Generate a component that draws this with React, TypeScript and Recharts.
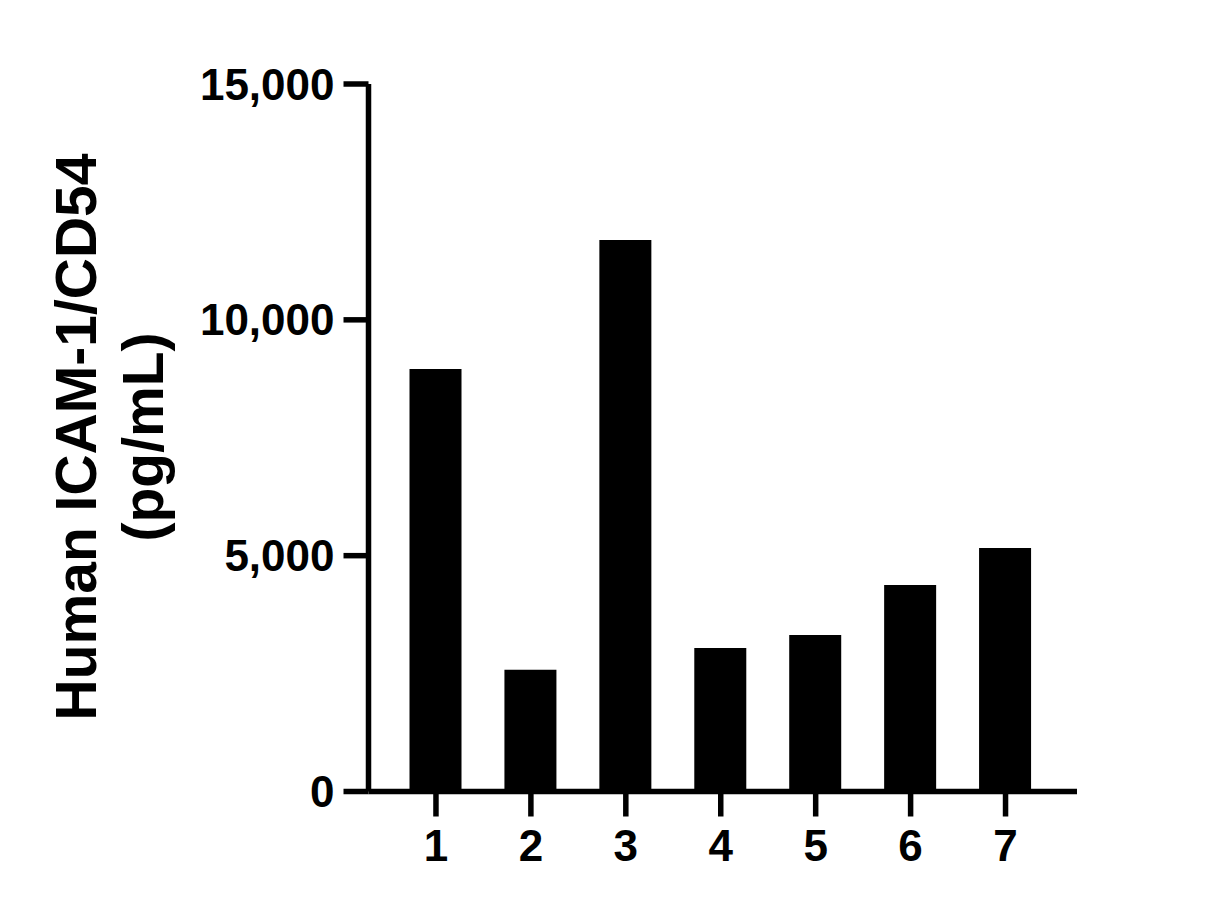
import React from "react";
import { BarChart, Bar, XAxis, YAxis } from "recharts";

const categories = ["1", "2", "3", "4", "5", "6", "7"];
const concentrations = [8957, 2582, 11692, 3042, 3318, 4378, 5162];
const yTicks = [0, 5000, 10000, 15000];
const titleLines = ["Human ICAM-1/CD54", "(pg/mL)"];

const FONT = '"Liberation Sans", Arial, Helvetica, sans-serif';

const data = categories.map((name, i) => ({ name, value: concentrations[i] }));

const tickStyle = {
  fontFamily: FONT,
  fontWeight: 700,
  fontSize: 44,
  fill: "#000",
};

const axisLine = { stroke: "#000", strokeWidth: 5.5 };
const tickLine = { stroke: "#000", strokeWidth: 5.5 };

// two-line rotated y title
const YTitle = () => {
  const cy = 437;
  const baselines = [96, 163];
  return (
    <g>
      {titleLines.map((line, i) => (
        <text
          key={i}
          transform={`translate(${baselines[i]},${cy}) rotate(-90)`}
          textAnchor="middle"
          fontFamily={FONT}
          fontWeight={700}
          fontSize={57}
          fill="#000"
        >
          {line}
        </text>
      ))}
    </g>
  );
};

const App = () => {
  return (
    <div style={{ position: "absolute", left: 0, top: 0, width: 1214, height: 908, background: "#fff" }}>
      <BarChart
        width={1214}
        height={908}
        data={data}
        margin={{ top: 84, right: 137, bottom: 56.5, left: 238.5 }}
        barCategoryGap={0}
      >
        <XAxis
          dataKey="name"
          height={60}
          padding={{ left: 20, right: 24 }}
          axisLine={axisLine}
          tickLine={tickLine}
          tickSize={25}
          tickMargin={13}
          tick={tickStyle}
          interval={0}
        />
        <YAxis
          width={130}
          domain={[0, 15000]}
          ticks={yTicks}
          allowDataOverflow
          axisLine={axisLine}
          tickLine={tickLine}
          tickSize={25}
          tickMargin={9}
          tick={tickStyle}
          tickFormatter={(v: number) => v.toLocaleString("en-US")}
          label={<YTitle />}
        />
        <Bar dataKey="value" fill="#000" barSize={52} isAnimationActive={false} />
      </BarChart>
    </div>
  );
};

export default App;
